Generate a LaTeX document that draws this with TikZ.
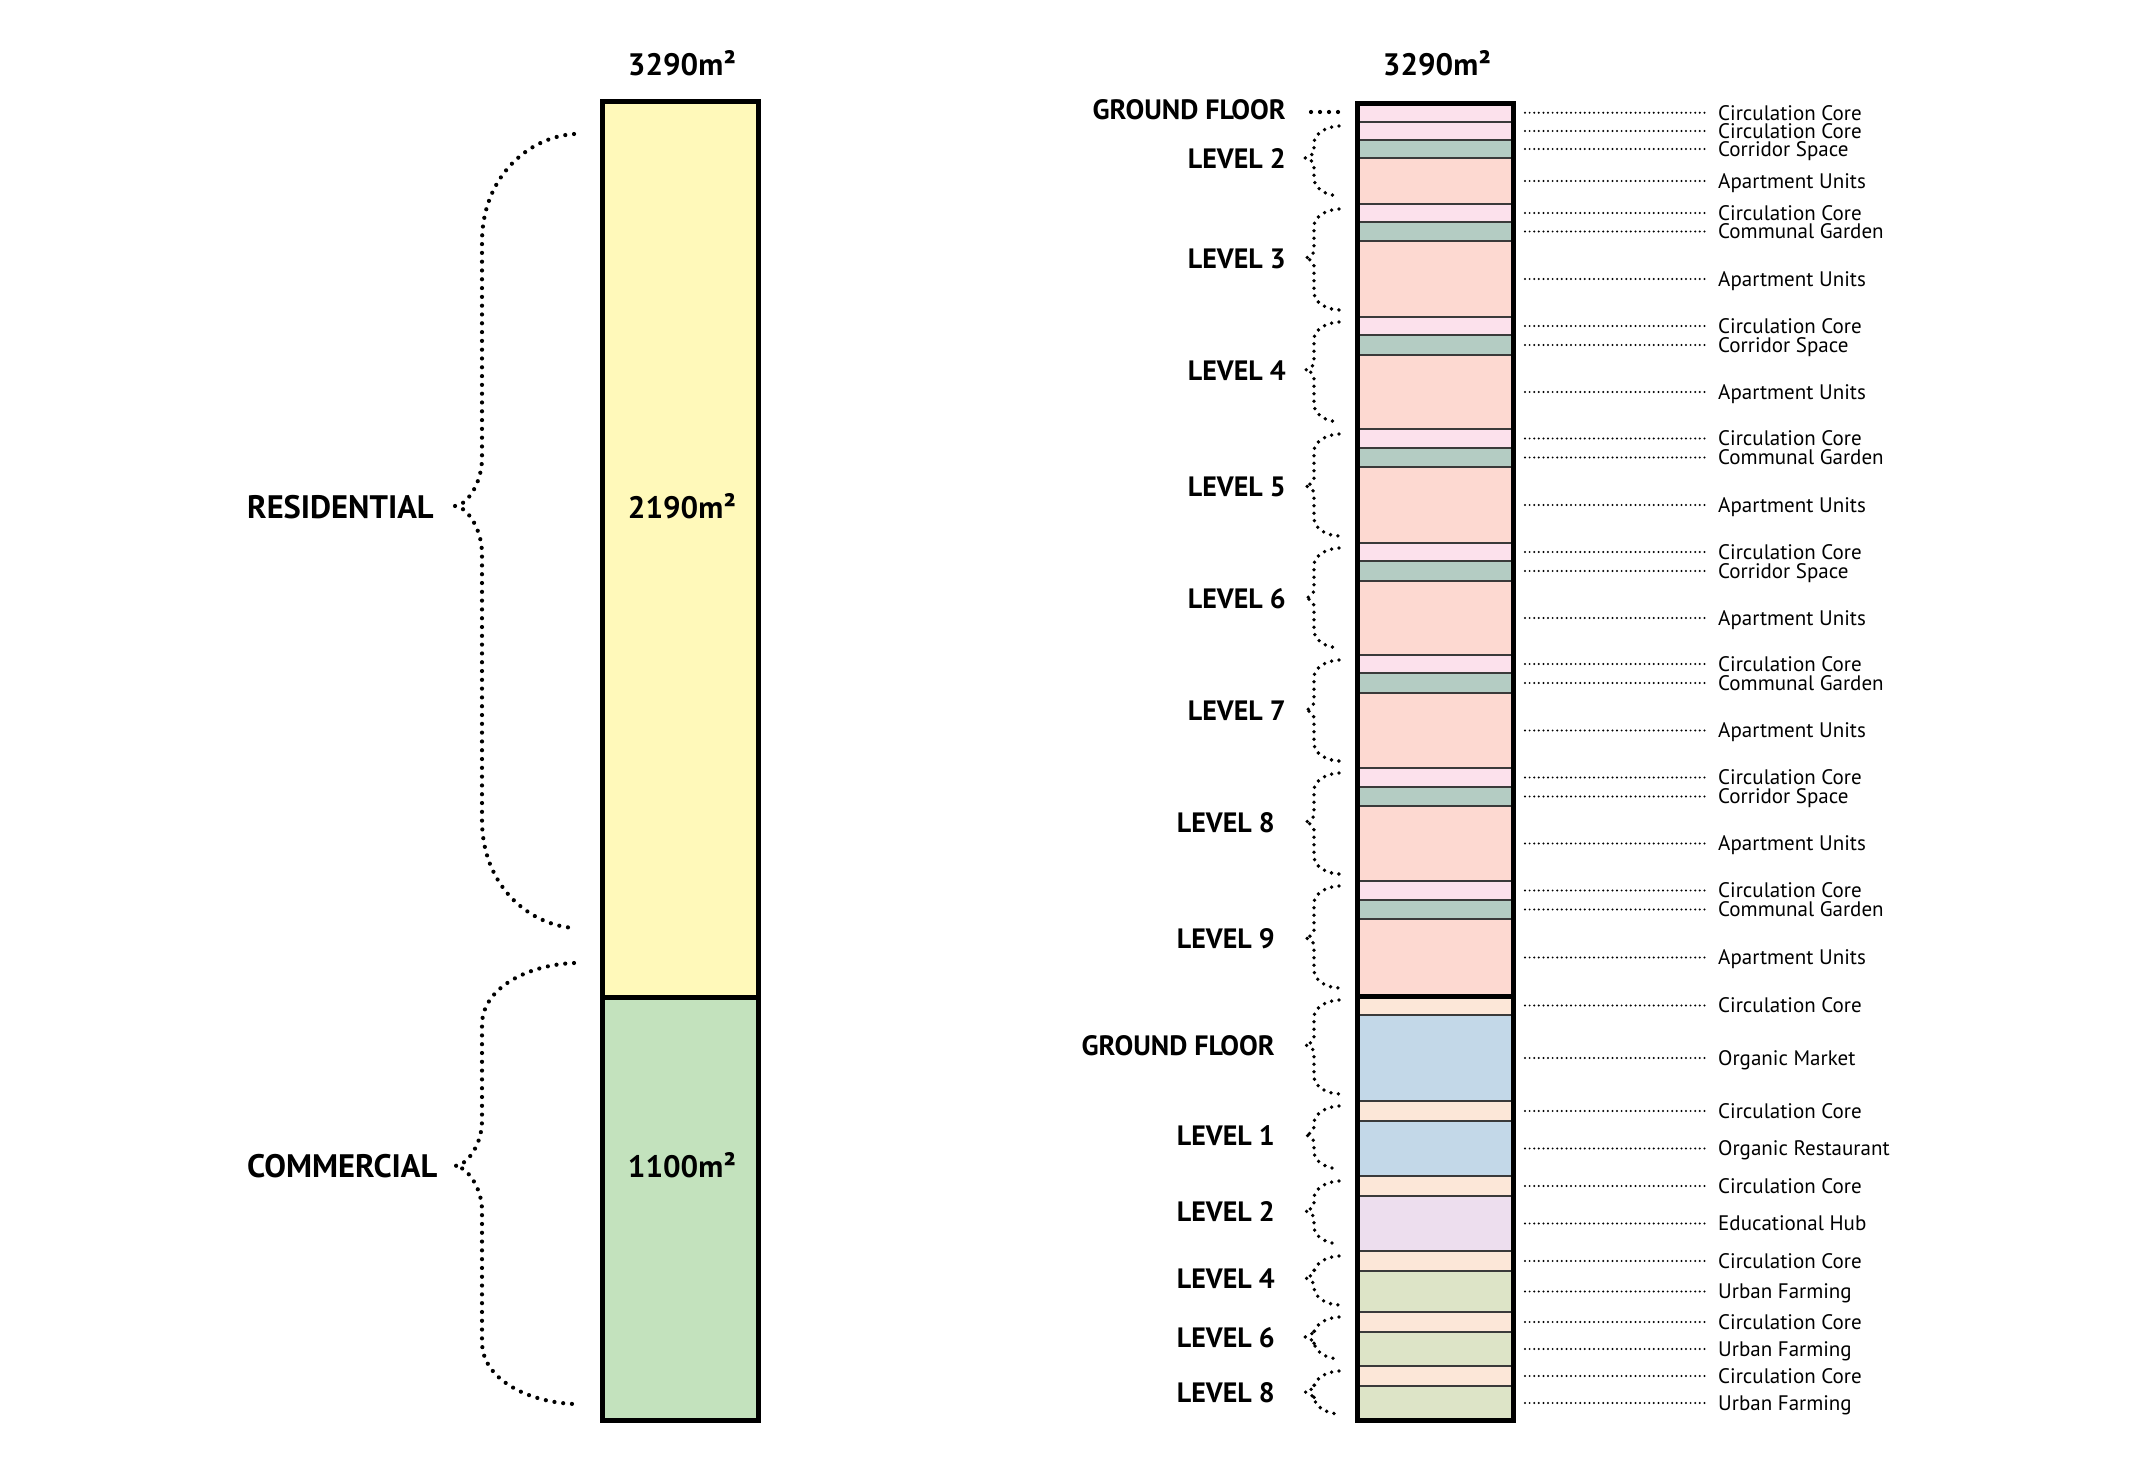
\documentclass[tikz,border=0pt]{standalone}
\usepackage{fontspec}
\setmainfont{PT Sans}
\usetikzlibrary{calc}
\definecolor{resY}{HTML}{FFF9BA}
\definecolor{comG}{HTML}{C3E2BD}
\definecolor{circR}{HTML}{FCE1EC}
\definecolor{corr}{HTML}{B4CCC3}
\definecolor{apt}{HTML}{FDD9D1}
\definecolor{circC}{HTML}{FCE7D8}
\definecolor{mkt}{HTML}{C3D8E8}
\definecolor{edu}{HTML}{EDDEEE}
\definecolor{farm}{HTML}{DDE4C7}
\definecolor{sepline}{HTML}{3A3A3A}
% brace: #1 endx, #2 vertx, #3 tipx, #4 y1, #5 ytip, #6 y2, #7 r, #8 r2
\newcommand\bracepath[8]{(#1,#4) .. controls ({#1-0.5*(#1-#2)},{#4+0.03*#7}) and (#2,{#4+0.4*#7}) .. (#2,{#4+#7})
 -- (#2,{#5-#8}) .. controls (#2,{#5-0.45*#8}) and ({#3+0.4*(#2-#3)},#5) .. (#3,#5)
 .. controls ({#3+0.4*(#2-#3)},#5) and (#2,{#5+0.45*#8}) .. (#2,{#5+#8})
 -- (#2,{#6-#7}) .. controls (#2,{#6-0.4*#7}) and ({#1-0.5*(#1-#2)},{#6-0.03*#7}) .. (#1,#6)}
\begin{document}
\begin{tikzpicture}[x=1pt,y=-1pt,
  frame/.style={draw=black,line width=5pt},
  stripe/.style={draw=sepline,line width=2.5pt},
  bigdots/.style={line width=4.2pt,dash pattern=on 0pt off 8.8pt,line cap=round},
  smalldots/.style={line width=2.2pt,dash pattern=on 0pt off 4.6pt,line cap=round},
  lab/.style={font=\fontsize{21}{25}\selectfont,inner xsep=10pt,inner ysep=0pt,anchor=base west},
  lvl/.style={font=\fontsize{28}{32}\selectfont\bfseries,inner sep=0pt,anchor=base east},
  area/.style={font=\fontsize{31}{35}\selectfont\bfseries,inner sep=0pt,anchor=base},
  sect/.style={font=\fontsize{32.5}{37}\selectfont\bfseries,inner sep=0pt,anchor=base west}]
\useasboundingbox (0,0) rectangle (2134,1483);
\fill[white] (0,0) rectangle (2134,1483);

% ---------- left column ----------
\fill[resY] (602,101.5) rectangle (758,997);
\fill[comG] (602,997) rectangle (758,1420);
\draw[line width=5pt] (602,997) -- (758,997);
\draw[frame] (602,101.5) rectangle (758,1420);
\node[area] (totL) at (682,75.5) {3290m²};
\node[area] (resA) at (682,518) {2190m²};
\node[area] (comA) at (682,1177) {1100m²};
\node[sect] (res) at (247,518.5) {RESIDENTIAL};
\node[sect] (com) at (247,1177.5) {COMMERCIAL};
\draw[bigdots] \bracepath{574}{482}{455}{134}{506}{928}{108}{48};
\draw[bigdots] \bracepath{574}{482}{455}{963}{1166}{1404}{62}{45};

% ---------- right column ----------
\foreach \a/\b/\c/\t [count=\i] in {
103.5/122/circR/Circulation Core,
122/140/circR/Circulation Core,
140/158/corr/Corridor Space,
158/204/apt/Apartment Units,
204/222/circR/Circulation Core,
222/241/corr/Communal Garden,
241/317/apt/Apartment Units,
317/335/circR/Circulation Core,
335/355/corr/Corridor Space,
355/429/apt/Apartment Units,
429/448/circR/Circulation Core,
448/467/corr/Communal Garden,
467/543/apt/Apartment Units,
543/561/circR/Circulation Core,
561/581/corr/Corridor Space,
581/655/apt/Apartment Units,
655/673/circR/Circulation Core,
673/693/corr/Communal Garden,
693/768/apt/Apartment Units,
768/787/circR/Circulation Core,
787/806/corr/Corridor Space,
806/881/apt/Apartment Units,
881/900/circR/Circulation Core,
900/919/corr/Communal Garden,
919/996/apt/Apartment Units,
996/1015/circC/Circulation Core,
1015/1101/mkt/Organic Market,
1101/1121/circC/Circulation Core,
1121/1176/mkt/Organic Restaurant,
1176/1196/circC/Circulation Core,
1196/1251/edu/Educational Hub,
1251/1271/circC/Circulation Core,
1271/1312/farm/Urban Farming,
1312/1332/circC/Circulation Core,
1332/1366/farm/Urban Farming,
1366/1386/circC/Circulation Core,
1386/1420/farm/Urban Farming}{
  \filldraw[fill=\c,stripe] (1357,\a) rectangle (1513,\b);
  \coordinate (S\i) at (1525,{(\a+\b)/2});
  \node[lab] (L\i) at (1708,{(\a+\b)/2+7.3}) {\t};
  \draw[smalldots] (S\i) -- (S\i -| L\i.west);
}
\draw[line width=5pt] (1357,996) -- (1513,996);
\draw[frame] (1357,103.5) rectangle (1513,1420);
\node[area] (totR) at (1437,75.5) {3290m²};

% level labels and braces
\node[lvl] (gfR) at (1286,119) {GROUND FLOOR};
\coordinate (gfA) at (1311,112);
\coordinate (gfB) at (1340,112);
\draw[bigdots,dash pattern=on 0pt off 9pt] (gfA) -- (gfB);
\foreach \nm/\ya/\yt/\yb/\xr [count=\j] in {
LEVEL 2/126/158/196/1286,
LEVEL 3/209/258/310/1286,
LEVEL 4/322/370/422/1286,
LEVEL 5/434/486/536/1286,
LEVEL 6/548/598/648/1286,
LEVEL 7/660/710/761/1286,
LEVEL 8/773/822/874/1275,
LEVEL 9/886/938/988/1275,
GROUND FLOOR/1000/1045/1094/1275,
LEVEL 1/1106/1135/1169/1275,
LEVEL 2/1181/1211/1244/1275,
LEVEL 4/1256/1278/1305/1275,
LEVEL 6/1317/1337/1359/1275,
LEVEL 8/1371/1392/1414/1275}{
  \node[lvl] (V\j) at (\xr,\yt+10) {\nm};
  \draw[bigdots,line width=3.8pt,dash pattern=on 0pt off 7.5pt] \bracepath{1339}{1314}{1305}{\ya}{\yt}{\yb}{18}{8};
}
\end{tikzpicture}
\end{document}
